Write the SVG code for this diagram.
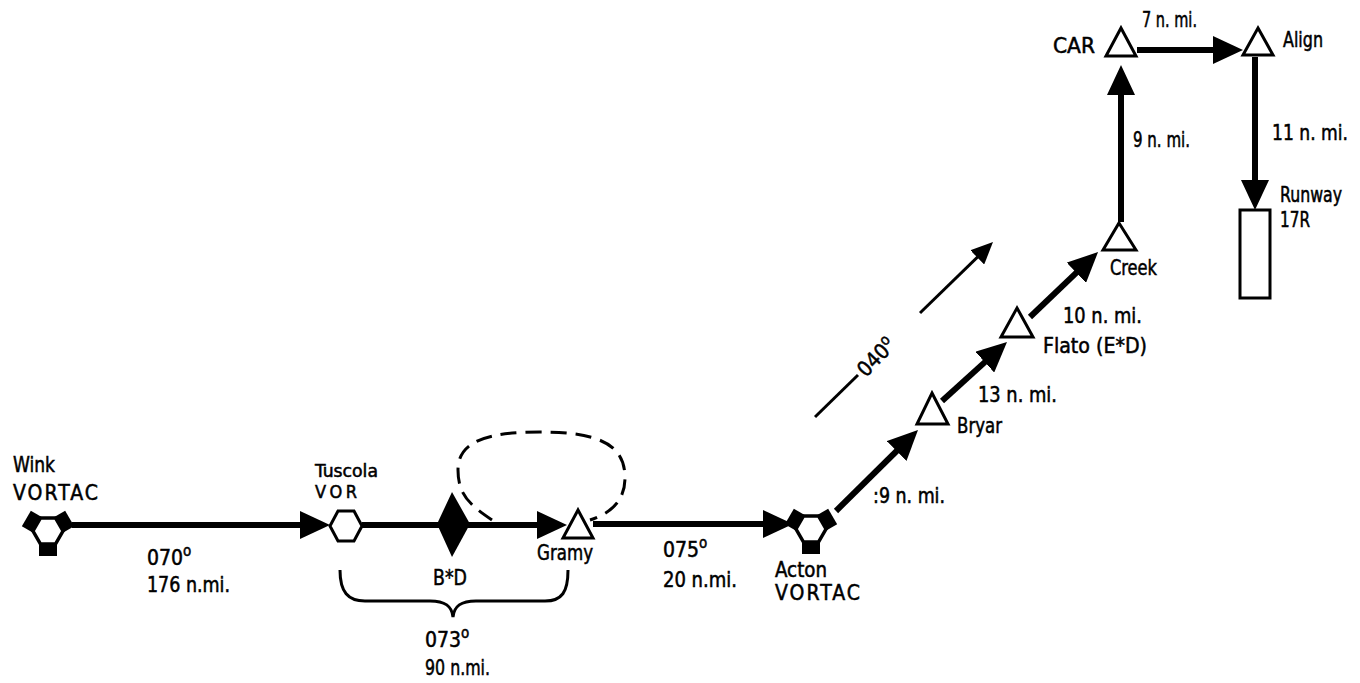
<svg xmlns="http://www.w3.org/2000/svg" xmlns:xlink="http://www.w3.org/1999/xlink" width="1360" height="683" viewBox="0 0 1360 683">
<style>
  text { font-family: "Liberation Sans Narrow", "DejaVu Sans Condensed", "Liberation Sans", sans-serif; font-size: 21px; fill: #000; stroke: #000; stroke-width: 0.5; }
  .small { font-size: 18px; }
  .sup { font-size: 15px; }
  .route { fill: none; stroke: #000; stroke-width: 6; }
  .thin { fill: none; stroke: #000; stroke-width: 3; }
  .dash { fill: none; stroke: #000; stroke-width: 3; stroke-dasharray: 16 9; }
  .wpt { fill: #fff; stroke: #000; stroke-width: 3; stroke-linejoin: miter; }
  .hex { fill: #fff; stroke: #000; stroke-width: 3.5; }
  .tab { fill: #000; }
  .rwy { fill: #fff; stroke: #000; stroke-width: 3; }
</style>
<defs>
  <marker id="arr" markerUnits="userSpaceOnUse" markerWidth="30" markerHeight="28" viewBox="0 0 30 28" refX="15" refY="14" orient="auto">
    <path d="M0,0 L30,14 L0,28 Z" fill="#000"/>
  </marker>
  <marker id="arrs" markerUnits="userSpaceOnUse" markerWidth="22" markerHeight="20" viewBox="0 0 22 20" refX="11" refY="10" orient="auto">
    <path d="M0,0 L22,10 L0,20 Z" fill="#000"/>
  </marker>
  <g id="vortac">
    <polygon class="tab" points="-9,-11 9,-11 9,-25 -9,-25" transform="rotate(60)"/>
    <polygon class="tab" points="-9,-11 9,-11 9,-25 -9,-25" transform="rotate(-60)"/>
    <polygon class="tab" points="-9,-11 9,-11 9,-25 -9,-25" transform="rotate(180)"/>
    <polygon class="hex" points="15,0 7.5,-13 -7.5,-13 -15,0 -7.5,13 7.5,13"/>
  </g>
</defs>

<g id="connectors">
  <line class="route" x1="72" y1="525" x2="315" y2="525" marker-end="url(#arr)"/>
  <line class="route" x1="362" y1="525" x2="552" y2="525" marker-end="url(#arr)"/>
  <line class="route" x1="593" y1="524" x2="778" y2="524" marker-end="url(#arr)"/>
  <line class="route" x1="836" y1="511" x2="907.3" y2="440.5" marker-end="url(#arr)"/>
  <line class="route" x1="942" y1="401" x2="995.9" y2="352.1" marker-end="url(#arr)"/>
  <line class="route" x1="1030" y1="317" x2="1087.2" y2="262.4" marker-end="url(#arr)"/>
  <line class="route" x1="1121" y1="222" x2="1121" y2="80" marker-end="url(#arr)"/>
  <line class="route" x1="1137" y1="50" x2="1228" y2="50" marker-end="url(#arr)"/>
  <line class="route" x1="1255" y1="57" x2="1255" y2="195" marker-end="url(#arr)"/>
  <path class="dash" d="M492,520 C470,505 458,495 458,470 C458,440 490,432 540,432 C600,432 625,445 625,478 C625,505 605,515 590,520"/>
  <path class="thin" d="M340,570 C340,592 348,601 365,601 L430,601 C445,601 452,606 453,617 C454,606 461,601 476,601 L545,601 C562,601 568,592 568,570"/>
  <line class="thin" x1="815" y1="417" x2="858" y2="375"/>
  <line class="thin" x1="920" y1="313" x2="985.1" y2="249.7" marker-end="url(#arrs)"/>
  <text transform="translate(866,378) rotate(-46)">040<tspan class="sup" dy="-8">o</tspan></text>
  <text x="147" y="565">070<tspan class="sup" dy="-9">o</tspan></text>
  <text x="147" y="592" textLength="83" lengthAdjust="spacingAndGlyphs">176 n.mi.</text>
  <text x="425" y="647">073<tspan class="sup" dy="-9">o</tspan></text>
  <text x="425" y="675" textLength="65" lengthAdjust="spacingAndGlyphs">90 n.mi.</text>
  <text x="663" y="557">075<tspan class="sup" dy="-9">o</tspan></text>
  <text x="663" y="587" textLength="74" lengthAdjust="spacingAndGlyphs">20 n.mi.</text>
  <text x="873" y="503" textLength="72" lengthAdjust="spacingAndGlyphs">:9 n. mi.</text>
  <text x="978" y="402" textLength="79" lengthAdjust="spacingAndGlyphs">13 n. mi.</text>
  <text x="1063" y="323" textLength="79" lengthAdjust="spacingAndGlyphs">10 n. mi.</text>
  <text x="1133" y="147" textLength="57" lengthAdjust="spacingAndGlyphs">9 n. mi.</text>
  <text x="1142" y="27" textLength="55" lengthAdjust="spacingAndGlyphs">7 n. mi.</text>
  <text x="1272" y="140" textLength="76" lengthAdjust="spacingAndGlyphs">11 n. mi.</text>
</g>

<g id="wink">
  <use xlink:href="#vortac" href="#vortac" transform="translate(48,531)"/>
  <text x="13" y="472" textLength="42" lengthAdjust="spacingAndGlyphs">Wink</text>
  <text x="13" y="500" textLength="85">VORTAC</text>
</g>
<g id="tuscola">
  <polygon class="wpt" points="330,526 338,511 354,511 362,526 354,541 338,541" stroke-width="2.5"/>
  <text class="small" x="315" y="477" textLength="63" lengthAdjust="spacingAndGlyphs">Tuscola</text>
  <text class="small" x="315" y="498" textLength="42">VOR</text>
</g>
<g id="bd">
  <polygon points="452,492 470,524 452,557 437,524" fill="#000"/>
  <text x="433" y="585" textLength="34" lengthAdjust="spacingAndGlyphs">B*D</text>
</g>
<g id="gramy">
  <polygon class="wpt" points="578,510 593,538 563,538"/>
  <text x="537" y="560" textLength="56" lengthAdjust="spacingAndGlyphs">Gramy</text>
</g>
<g id="acton">
  <use xlink:href="#vortac" href="#vortac" transform="translate(811,529)"/>
  <text x="775" y="577" textLength="52" lengthAdjust="spacingAndGlyphs">Acton</text>
  <text x="775" y="600" textLength="85">VORTAC</text>
</g>
<g id="bryar">
  <polygon class="wpt" points="932,393 948,424 917,424"/>
  <text x="957" y="433" textLength="45" lengthAdjust="spacingAndGlyphs">Bryar</text>
</g>
<g id="flato">
  <polygon class="wpt" points="1017,308 1033,337 1001,337"/>
  <text x="1043" y="353" textLength="104" lengthAdjust="spacingAndGlyphs">Flato (E*D)</text>
</g>
<g id="creek">
  <polygon class="wpt" points="1119,223 1136,250 1103,250"/>
  <text x="1110" y="275" textLength="47" lengthAdjust="spacingAndGlyphs">Creek</text>
</g>
<g id="car">
  <polygon class="wpt" points="1121,28 1136,56 1106,56"/>
  <text x="1053" y="53" textLength="42" lengthAdjust="spacingAndGlyphs">CAR</text>
</g>
<g id="align">
  <polygon class="wpt" points="1258,28 1273,55 1243,55"/>
  <text x="1283" y="47" textLength="40" lengthAdjust="spacingAndGlyphs">Align</text>
</g>
<g id="runway">
  <rect class="rwy" x="1240" y="210" width="30" height="88"/>
  <text x="1280" y="202" textLength="62" lengthAdjust="spacingAndGlyphs">Runway</text>
  <text x="1280" y="227" textLength="30" lengthAdjust="spacingAndGlyphs">17R</text>
</g>
</svg>
